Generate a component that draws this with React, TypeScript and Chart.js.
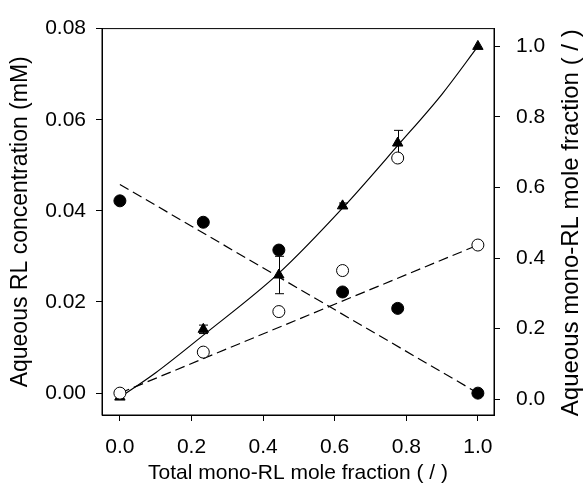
import React, { useEffect, useRef } from "react";
import { Chart, registerables } from "chart.js";

Chart.register(...registerables);

// Total mono-RL mole fraction (x)
const fractionX = [0, 0.233, 0.444, 0.622, 0.776, 1.0];
// Left axis: aqueous concentrations (mM)
const diRLConc = [0.0422, 0.0375, 0.0314, 0.0222, 0.0186, 0.0];
const monoRLConc = [0.0, 0.009, 0.0179, 0.0269, 0.0516, 0.0325];
// Right axis: aqueous mono-RL mole fraction
const aqMonoFraction = [0.006, 0.198, 0.352, 0.548, 0.726, 1.0];
const aqMonoFractionErr = [0, 0.012, 0.053, 0.008, 0.036, 0];
// Fitted curve through triangles
const curveX = [0, 0.1, 0.235, 0.445, 0.625, 0.777, 0.9, 1.0];
const curveY = [0.005, 0.075, 0.183, 0.358, 0.545, 0.72, 0.865, 1.0];
// Dashed linear fits (left axis)
const diFitX = [0, 1.0];
const diFitY = [0.0458, 0.0];
const monoFitX = [0, 1.0];
const monoFitY = [0.0, 0.0325];
// Ticks
const xTicks = [0, 0.2, 0.4, 0.6, 0.8, 1.0];
const leftTicks = [0, 0.02, 0.04, 0.06, 0.08];
const rightTicks = [0, 0.2, 0.4, 0.6, 0.8, 1.0];

const xTitle = "Total mono-RL mole fraction ( / )";
const leftTitle = "Aqueous RL concentration (mM)";
const rightTitle = "Aqueous mono-RL mole fraction ( / )";

const FONT = "'Liberation Sans', Arial, Helvetica, sans-serif";

const pts = (xs: number[], ys: number[]) => xs.map((x, i) => ({ x, y: ys[i] }));

const framePlugin = {
  id: "frame",
  afterDraw(chart: any) {
    const { ctx, chartArea } = chart;
    ctx.save();
    ctx.strokeStyle = "#000";
    ctx.lineWidth = 1;
    ctx.strokeRect(chartArea.left, chartArea.top, chartArea.right - chartArea.left, chartArea.bottom - chartArea.top);
    ctx.restore();
  },
};

// Right-axis title reading bottom-to-top (as in the reference)
const rightTitlePlugin = {
  id: "rightTitle",
  afterDraw(chart: any) {
    const { ctx } = chart;
    const s = chart.scales.y2;
    ctx.save();
    ctx.fillStyle = "#000";
    ctx.font = `24px ${FONT}`;
    ctx.textAlign = "center";
    ctx.textBaseline = "middle";
    ctx.translate(s.right - 13, (s.top + s.bottom) / 2 + 1);
    ctx.rotate(-Math.PI / 2);
    ctx.fillText(rightTitle, 0, 0);
    ctx.restore();
  },
};

const errorBarPlugin = {
  id: "errorBars",
  beforeDatasetsDraw(chart: any) {
    const { ctx } = chart;
    const xs = chart.scales.x;
    const ys = chart.scales.y2;
    ctx.save();
    ctx.strokeStyle = "#000";
    ctx.lineWidth = 1;
    fractionX.forEach((xv, i) => {
      const e = aqMonoFractionErr[i];
      if (!e) return;
      const px = Math.round(xs.getPixelForValue(xv)) + 0.5;
      const top = ys.getPixelForValue(aqMonoFraction[i] + e);
      const bot = ys.getPixelForValue(aqMonoFraction[i] - e);
      ctx.beginPath();
      ctx.moveTo(px, top);
      ctx.lineTo(px, bot);
      ctx.moveTo(px - 4.5, top);
      ctx.lineTo(px + 4.5, top);
      ctx.moveTo(px - 4.5, bot);
      ctx.lineTo(px + 4.5, bot);
      ctx.stroke();
    });
    ctx.restore();
  },
};

export default function App() {
  const ref = useRef<HTMLCanvasElement>(null);

  useEffect(() => {
    if (!ref.current) return;
    const tickFont = { family: FONT, size: 21 };
    const chart = new Chart(ref.current, {
      type: "scatter",
      data: {
        datasets: [
          {
            label: "di-RL",
            data: pts(fractionX, diRLConc),
            yAxisID: "y",
            pointStyle: "circle",
            pointRadius: 6,
            backgroundColor: "#000",
            borderColor: "#000",
            borderWidth: 1,
            showLine: false,
            order: 1,
          },
          {
            label: "mono-RL",
            data: pts(fractionX, monoRLConc),
            yAxisID: "y",
            pointStyle: "circle",
            pointRadius: 6,
            backgroundColor: "#fff",
            borderColor: "#000",
            borderWidth: 1,
            showLine: false,
            order: 2,
          },
          {
            label: "aq mono fraction",
            data: pts(fractionX, aqMonoFraction),
            yAxisID: "y2",
            pointStyle: "triangle",
            pointRadius: 6,
            backgroundColor: "#000",
            borderColor: "#000",
            borderWidth: 1,
            showLine: false,
            order: 3,
          },
          {
            label: "curve",
            data: pts(curveX, curveY),
            yAxisID: "y2",
            showLine: true,
            pointRadius: 0,
            borderColor: "#000",
            borderWidth: 1.2,
            cubicInterpolationMode: "monotone",
            order: 4,
          },
          {
            label: "di fit",
            data: pts(diFitX, diFitY),
            yAxisID: "y",
            showLine: true,
            pointRadius: 0,
            borderColor: "#000",
            borderWidth: 1.2,
            borderDash: [10, 5],
            order: 5,
          },
          {
            label: "mono fit",
            data: pts(monoFitX, monoFitY),
            yAxisID: "y",
            showLine: true,
            pointRadius: 0,
            borderColor: "#000",
            borderWidth: 1.2,
            borderDash: [10, 5],
            order: 6,
          },
        ],
      },
      options: {
        animation: false,
        responsive: false,
        devicePixelRatio: 1,
        layout: { padding: { top: 24, left: 0, right: 0, bottom: 0 } },
        plugins: {
          legend: { display: false },
          tooltip: { enabled: false },
        },
        scales: {
          x: {
            type: "linear",
            position: "bottom",
            min: -0.05,
            max: 1.045,
            afterBuildTicks: (s: any) => {
              s.ticks = xTicks.map((v) => ({ value: v }));
            },
            afterFit: (s: any) => {
              s.height = 69;
            },
            ticks: {
              color: "#000",
              font: tickFont,
              padding: 14,
              maxRotation: 0,
              autoSkip: false,
              callback: (v: any) => Number(v).toFixed(1),
            },
            grid: { drawOnChartArea: false, drawTicks: true, tickLength: 6, color: "#000", tickWidth: 1 },
            border: { display: true, color: "#000", width: 1 },
            title: {
              display: true,
              text: xTitle,
              color: "#000",
              font: { family: FONT, size: 21, lineHeight: 1.0 },
              padding: { top: 0, bottom: 0 },
            },
          },
          y: {
            type: "linear",
            position: "left",
            min: -0.0048,
            max: 0.08,
            afterBuildTicks: (s: any) => {
              s.ticks = leftTicks.map((v) => ({ value: v }));
            },
            afterFit: (s: any) => {
              s.width = 102;
            },
            ticks: {
              color: "#000",
              font: tickFont,
              padding: 10,
              autoSkip: false,
              callback: (v: any) => Number(v).toFixed(2),
            },
            grid: { drawOnChartArea: false, drawTicks: true, tickLength: 6, color: "#000", tickWidth: 1 },
            border: { display: true, color: "#000", width: 1 },
            title: {
              display: true,
              text: leftTitle,
              color: "#000",
              font: { family: FONT, size: 23, lineHeight: 1.0 },
              padding: { top: 9, bottom: 0 },
            },
          },
          y2: {
            type: "linear",
            position: "right",
            min: -0.0448,
            max: 1.0504,
            afterBuildTicks: (s: any) => {
              s.ticks = rightTicks.map((v) => ({ value: v }));
            },
            afterFit: (s: any) => {
              s.width = 90;
            },
            ticks: {
              color: "#000",
              font: tickFont,
              padding: 16,
              autoSkip: false,
              callback: (v: any) => Number(v).toFixed(1),
            },
            grid: { drawOnChartArea: false, drawTicks: true, tickLength: 6, color: "#000", tickWidth: 1 },
            border: { display: true, color: "#000", width: 1 },
            title: { display: false },
          },
        },
      },
      plugins: [framePlugin, errorBarPlugin, rightTitlePlugin],
    } as any);
    return () => chart.destroy();
  }, []);

  return (
    <div style={{ position: "absolute", left: 0, top: 0, width: 584, height: 484, background: "#fff" }}>
      <canvas ref={ref} width={584} height={484} style={{ display: "block" }} />
    </div>
  );
}
